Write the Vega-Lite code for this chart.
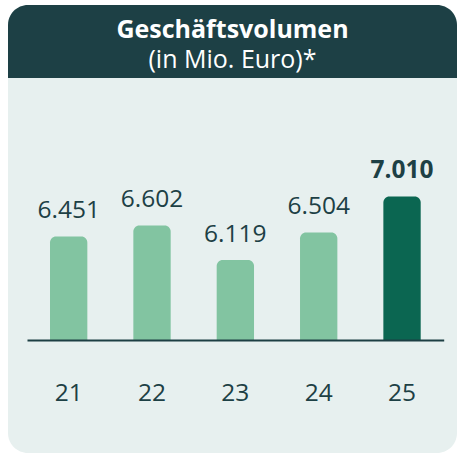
{
  "$schema": "https://vega.github.io/schema/vega-lite/v6.json",
  "width": 449,
  "height": 448,
  "autosize": {"type": "none"},
  "padding": {"left": 8, "top": 5, "right": 0, "bottom": 1},
  "background": "#ffffff",
  "config": {
    "view": {"fill": "#e7f0ef", "stroke": null, "cornerRadius": 20}
  },
  "title": {
    "text": "Geschäftsvolumen",
    "subtitle": "(in Mio. Euro)*",
    "anchor": "middle",
    "frame": "group",
    "color": "#ffffff",
    "subtitleColor": "#ffffff",
    "font": "Open Sans",
    "subtitleFont": "Open Sans",
    "fontSize": 25,
    "subtitleFontSize": 25,
    "fontWeight": "bold",
    "subtitleFontWeight": "normal",
    "subtitlePadding": 5,
    "offset": -68
  },
  "data": {"values": [
    {"jahr": "21", "wert": 6451, "text": "6.451"},
    {"jahr": "22", "wert": 6602, "text": "6.602"},
    {"jahr": "23", "wert": 6119, "text": "6.119"},
    {"jahr": "24", "wert": 6504, "text": "6.504"},
    {"jahr": "25", "wert": 7010, "text": "7.010"}
  ]},
  "layer": [
    {
      "mark": {"type": "bar", "cornerRadiusTopLeft": 6, "cornerRadiusTopRight": 6},
      "encoding": {
        "x": {
          "field": "jahr", "type": "ordinal",
          "scale": {"range": [19, 435.7], "paddingInner": 0.552, "paddingOuter": 0.276},
          "axis": {
            "title": null, "orient": "bottom", "offset": -113, "zindex": 1,
            "domainColor": "#1d3f44", "domainWidth": 2, "ticks": false, "tickSize": 0,
            "labelAngle": 0, "labelFont": "Open Sans", "labelFontSize": 24.5,
            "labelColor": "#1d4045", "labelBaseline": "alphabetic", "labelPadding": 60
          }
        },
        "y": {
          "field": "wert", "type": "quantitative",
          "scale": {"domain": [3417.4, 9692], "nice": false, "zero": false},
          "axis": null
        },
        "y2": {"datum": 5000},
        "color": {"condition": {"test": "datum.jahr === '25'", "value": "#0b6651"}, "value": "#82c4a1"}
      }
    },
    {
      "transform": [{"filter": "datum.jahr !== '25'"}],
      "mark": {"type": "text", "font": "Open Sans", "fontSize": 24.5, "baseline": "alphabetic", "dy": -18.5, "color": "#1d4045"},
      "encoding": {
        "x": {"field": "jahr", "type": "ordinal"},
        "y": {"field": "wert", "type": "quantitative"},
        "text": {"field": "text", "type": "nominal"}
      }
    },
    {
      "transform": [{"filter": "datum.jahr === '25'"}],
      "mark": {"type": "text", "font": "Open Sans", "fontSize": 24.5, "fontWeight": "bold", "baseline": "alphabetic", "dy": -18.5, "color": "#1d4045"},
      "encoding": {
        "x": {"field": "jahr", "type": "ordinal"},
        "y": {"field": "wert", "type": "quantitative"},
        "text": {"field": "text", "type": "nominal"}
      }
    },
    {
      "data": {"values": [{"teil": "kopf"}]},
      "mark": {"type": "rect", "color": "#1d4045", "cornerRadiusTopLeft": 20, "cornerRadiusTopRight": 20},
      "encoding": {
        "x": {"value": 0},
        "x2": {"value": "width"},
        "y": {"datum": 9692},
        "y2": {"datum": 8669.5}
      }
    }
  ]
}
